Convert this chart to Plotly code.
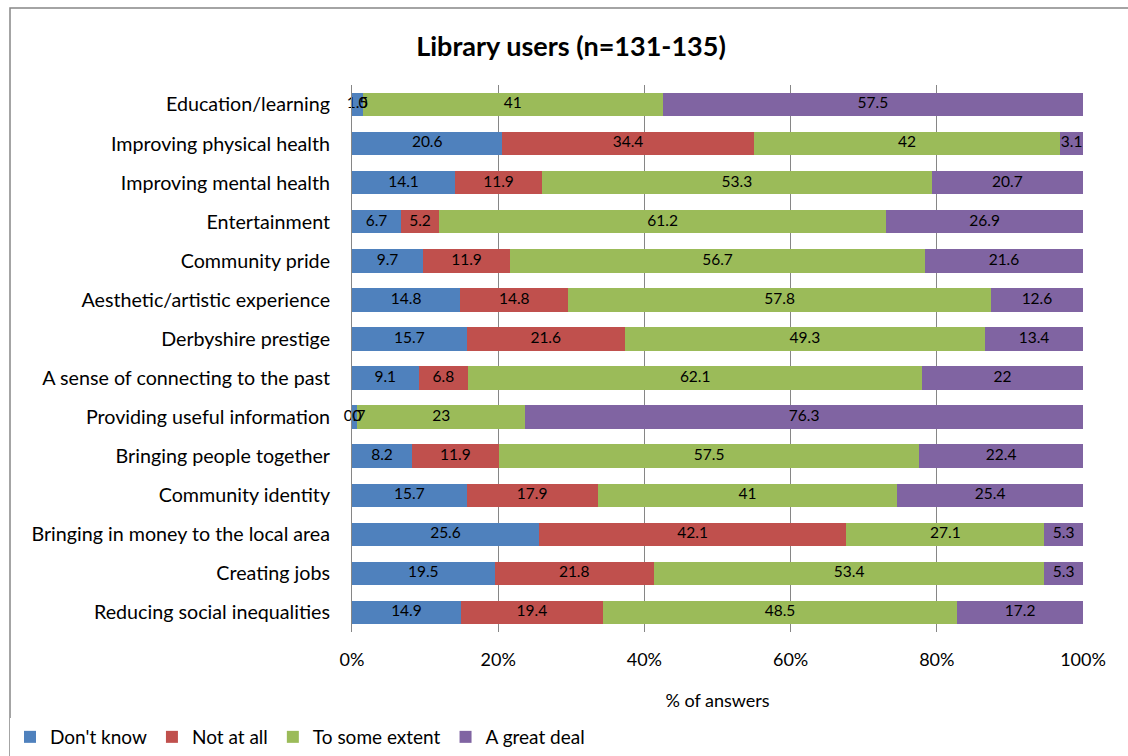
import plotly.graph_objects as go

categories = [
    "Education/learning",
    "Improving physical health",
    "Improving mental health",
    "Entertainment",
    "Community pride",
    "Aesthetic/artistic experience",
    "Derbyshire prestige",
    "A sense of connecting to the past",
    "Providing useful information",
    "Bringing people together",
    "Community identity",
    "Bringing in money to the local area",
    "Creating jobs",
    "Reducing social inequalities",
]

dont_know = [1.5, 20.6, 14.1, 6.7, 9.7, 14.8, 15.7, 9.1, 0.7, 8.2, 15.7, 25.6, 19.5, 14.9]
not_at_all = [0, 34.4, 11.9, 5.2, 11.9, 14.8, 21.6, 6.8, 0, 11.9, 17.9, 42.1, 21.8, 19.4]
some_extent = [41, 42, 53.3, 61.2, 56.7, 57.8, 49.3, 62.1, 23, 57.5, 41, 27.1, 53.4, 48.5]
great_deal = [57.5, 3.1, 20.7, 26.9, 21.6, 12.6, 13.4, 22, 76.3, 22.4, 25.4, 5.3, 5.3, 17.2]

series_names = ["Don't know", "Not at all", "To some extent", "A great deal"]
series_values = [dont_know, not_at_all, some_extent, great_deal]
colors = ["#4F81BD", "#C0504D", "#9BBB59", "#8064A2"]

FONT = "Lato, 'Open Sans', sans-serif"

fig = go.Figure()
for name, vals, col in zip(series_names, series_values, colors):
    fig.add_trace(go.Bar(
        y=categories, x=vals, name=name, orientation="h",
        marker=dict(color=col, line=dict(width=0)),
        hoverinfo="skip",
    ))

# Data labels centred on each segment (segments normalised to 100 %)
lab_x, lab_y, lab_t = [], [], []
for i, cat in enumerate(categories):
    total = sum(s[i] for s in series_values)
    cum = 0.0
    for s in series_values:
        v = s[i]
        share = v / total * 100
        lab_x.append(cum + share / 2)
        lab_y.append(cat)
        lab_t.append(f"{v:g}")
        cum += share
fig.add_trace(go.Scatter(
    x=lab_x, y=lab_y, text=lab_t, mode="text",
    textfont=dict(family=FONT, size=15.5, color="#000000"),
    showlegend=False, hoverinfo="skip", cliponaxis=False,
))

W, H = 1128, 756
L, R, T, B = 352, 45, 85, 124
pw, ph = W - L - R, H - T - B

fig.update_layout(
    width=W, height=H,
    barmode="stack", barnorm="percent", bargap=0.4,
    paper_bgcolor="white", plot_bgcolor="white",
    margin=dict(l=L, r=R, t=T, b=B, autoexpand=False),
    font=dict(family=FONT, size=19, color="#000000"),
    title=dict(
        text="<b>Library users (n=131-135)</b>",
        font=dict(family=FONT, size=27, color="#000000"),
        xref="container", x=571 / W, xanchor="center",
        yref="container", y=1 - 47 / H, yanchor="middle",
    ),
    xaxis=dict(
        range=[0, 100], tickvals=[0, 20, 40, 60, 80, 100],
        ticktext=["0%", "20%", "40%", "60%", "80%", "100%"],
        showgrid=True, gridcolor="#868686", gridwidth=1,
        zeroline=False, showline=False, automargin=False,
        ticks="", ticklabelstandoff=15,
        tickfont=dict(size=18),
        title=dict(text="% of answers", font=dict(size=18), standoff=25),
    ),
    yaxis=dict(
        range=[len(categories) - 0.5, -0.5], showgrid=False, zeroline=False,
        showline=True, linecolor="#868686", linewidth=1, automargin=False,
        ticks="", ticklabelstandoff=17, tickfont=dict(size=19.7),
    ),
    legend=dict(
        orientation="h", x=(10 - L) / pw, xanchor="left",
        y=(T + ph - 737) / ph, yanchor="middle",
        font=dict(size=19), traceorder="normal",
        itemwidth=30, tracegroupgap=0,
    ),
    showlegend=True,
    shapes=[dict(
        type="rect", xref="paper", yref="paper",
        x0=(10 - L) / pw, x1=(W + 5 - L) / pw,
        y0=(T + ph - (H + 5)) / ph, y1=1 + (T - 8) / ph,
        line=dict(color="#868686", width=1.5), fillcolor="rgba(0,0,0,0)",
        layer="below",
    )],
)

fig.write_html("out.html")
